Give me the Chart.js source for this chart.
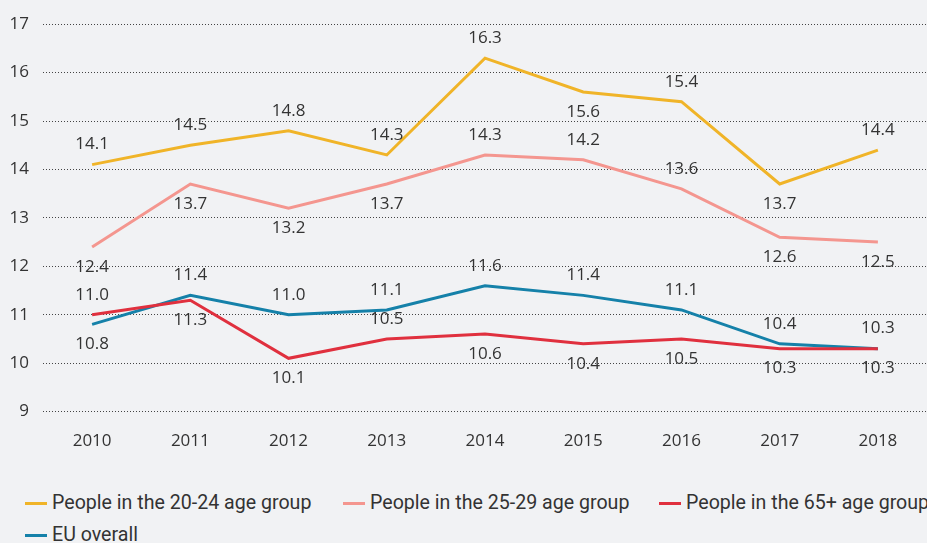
<!DOCTYPE html>
<html>
<head>
<meta charset="utf-8">
<script src="https://cdn.jsdelivr.net/npm/chart.js@4"></script>
<style>
  html, body { margin: 0; padding: 0; background: #f1f2f4; }
  #wrap { position: relative; width: 927px; height: 543px; overflow: hidden; background: #f1f2f4; }
  #box { position: absolute; left: 0; top: 0; width: 927px; height: 462px; }
  #legend { position: absolute; left: 25px; top: 491px; width: 1100px; font-family: "Roboto", sans-serif; font-size: 19.6px; color: #333; }
  .item { position: absolute; white-space: nowrap; height: 24px; }
  .item i { position: absolute; left: 0; top: 11px; width: 22px; height: 3px; }
  .item span { position: absolute; left: 27px; top: 0; line-height: 24px; }
</style>
</head>
<body>
<div id="wrap">
  <div id="box"><canvas id="myChart"></canvas></div>
  <div id="legend"></div>
</div>
<script>
var years = ["2010", "2011", "2012", "2013", "2014", "2015", "2016", "2017", "2018"];
var group2024 = [14.1, 14.5, 14.8, 14.3, 16.3, 15.6, 15.4, 13.7, 14.4];
var group2529 = [12.4, 13.7, 13.2, 13.7, 14.3, 14.2, 13.6, 12.6, 12.5];
var group65 = [11.0, 11.3, 10.1, 10.5, 10.6, 10.4, 10.5, 10.3, 10.3];
var euOverall = [10.8, 11.4, 11.0, 11.1, 11.6, 11.4, 11.1, 10.4, 10.3];
var seriesNames = ["People in the 20-24 age group", "People in the 25-29 age group", "People in the 65+ age group", "EU overall"];
var yTicks = [9, 10, 11, 12, 13, 14, 15, 16, 17];

// label side for each point: a = above, b = below
var labelSides = [
  ["a", "a", "a", "a", "a", "b", "a", "b", "a"],
  ["b", "b", "b", "b", "a", "a", "a", "b", "b"],
  ["a", "b", "b", "a", "b", "b", "b", "b", "b"],
  ["b", "a", "a", "a", "a", "a", "a", "a", "a"]
];
var colors = ["#f0b428", "#f4968f", "#e0303e", "#1581a9"];

var pointLabels = {
  id: "pointLabels",
  afterDatasetsDraw: function (chart) {
    var ctx = chart.ctx;
    ctx.save();
    ctx.font = "17px 'Open Sans', sans-serif";
    ctx.fillStyle = "#333";
    ctx.textAlign = "center";
    ctx.textBaseline = "middle";
    chart.data.datasets.forEach(function (ds, i) {
      var meta = chart.getDatasetMeta(i);
      meta.data.forEach(function (pt, j) {
        var dy = labelSides[i][j] === "a" ? -20 : 20;
        ctx.fillText(ds.data[j].toFixed(1), pt.x, pt.y + dy);
      });
    });
    ctx.restore();
  }
};

var datasets = [group2024, group2529, group65, euOverall].map(function (d, i) {
  return {
    label: seriesNames[i],
    data: d,
    borderColor: colors[i],
    backgroundColor: colors[i],
    borderWidth: 3,
    pointRadius: 0,
    tension: 0
  };
});
// red line sits on top of the blue one
datasets[2].order = 1;
datasets[3].order = 2;

var ctx = document.getElementById("myChart").getContext("2d");
var myChart = new Chart(ctx, {
  type: "line",
  data: { labels: years, datasets: datasets },
  plugins: [pointLabels],
  options: {
    responsive: true,
    maintainAspectRatio: false,
    animation: false,
    layout: { padding: { top: 11, right: 0, left: 0, bottom: 0 } },
    plugins: { legend: { display: false }, tooltip: { enabled: false } },
    scales: {
      x: {
        offset: true,
        grid: { display: false },
        border: { display: false },
        ticks: { color: "#333", font: { family: "Open Sans", size: 17 }, padding: 11 }
      },
      y: {
        min: 9,
        max: 17,
        afterFit: function (s) { s.width = 43; },
        afterBuildTicks: function (s) { s.ticks = yTicks.map(function (v) { return { value: v }; }); },
        grid: { color: "#444", lineWidth: 1, drawTicks: false },
        border: { display: false, dash: [1, 2] },
        ticks: { color: "#333", font: { family: "Open Sans", size: 17 }, padding: 14 }
      }
    }
  }
});

var legendPos = [
  { left: 0, top: 0 },
  { left: 318, top: 0 },
  { left: 634, top: 0 },
  { left: 0, top: 32 }
];
var legendEl = document.getElementById("legend");
seriesNames.forEach(function (name, i) {
  var div = document.createElement("div");
  div.className = "item";
  div.style.left = legendPos[i].left + "px";
  div.style.top = legendPos[i].top + "px";
  div.innerHTML = '<i style="background:' + colors[i] + '"></i><span>' + name + '</span>';
  legendEl.appendChild(div);
});
</script>
</body>
</html>
